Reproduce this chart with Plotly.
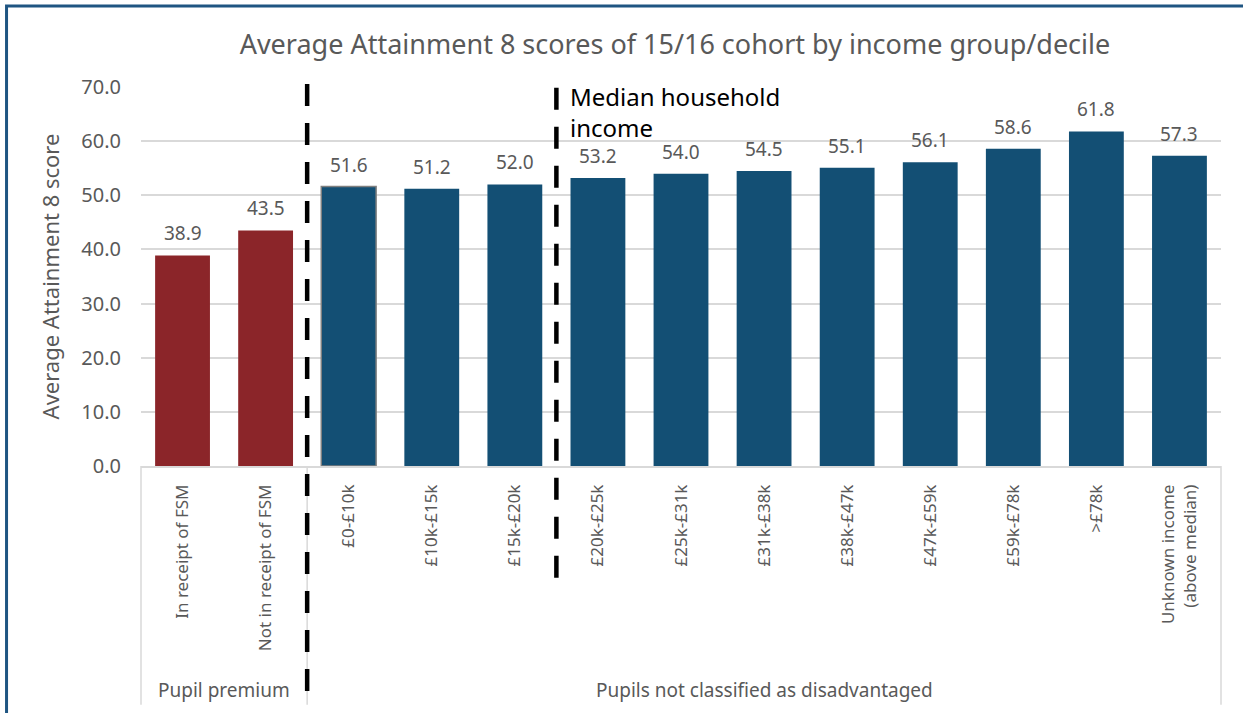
import plotly.graph_objects as go

categories = ["In receipt of FSM", "Not in receipt of FSM", "£0-£10k", "£10k-£15k",
              "£15k-£20k", "£20k-£25k", "£25k-£31k", "£31k-£38k", "£38k-£47k",
              "£47k-£59k", "£59k-£78k", ">£78k", "Unknown income<br>(above median)"]
values = [38.9, 43.5, 51.6, 51.2, 52.0, 53.2, 54.0, 54.5, 55.1, 56.1, 58.6, 61.8, 57.3]
groups = ["Pupil premium"] * 2 + ["Pupils not classified as disadvantaged"] * 11
median_after = "£15k-£20k"
title_text = "Average Attainment 8 scores of 15/16 cohort by income group/decile"
y_title = "Average Attainment 8 score"
y_ticks = [0, 10, 20, 30, 40, 50, 60, 70]

RED = "#8B2529"
BLUE = "#134F74"
GREY_TXT = "#595959"
GRID = "#D9D9D9"
FONT = "Noto Sans, Open Sans, sans-serif"

n = len(categories)
colors = [RED if g == "Pupil premium" else BLUE for g in groups]
line_w = [1.5 if c == "£0-£10k" else 0 for c in categories]

fig = go.Figure()
fig.add_trace(go.Bar(
    x=list(range(n)), y=values,
    marker=dict(color=colors, line=dict(color="#7F7F7F", width=line_w)),
    width=0.66, hoverinfo="x+y",
))

ann = []
for i, v in enumerate(values):
    ann.append(dict(x=i, y=v, xref="x", yref="y", text=f"{v:.1f}", showarrow=False,
                    xanchor="center", yanchor="bottom", yshift=7,
                    font=dict(size=19, color=GREY_TXT, family=FONT)))

# group structure
bounds = []
start = 0
for i in range(1, n + 1):
    if i == n or groups[i] != groups[i - 1]:
        bounds.append((start, i, groups[start]))
        start = i

def px(idx):  # paper x for category boundary index
    return idx / n

shapes = []
AX_BOTTOM = -0.63
for (s, e, g) in bounds:
    ann.append(dict(x=(px(s) + px(e)) / 2, y=-0.591, xref="paper", yref="paper", text=g,
                    xanchor="center", yanchor="middle", showarrow=False,
                    font=dict(size=19, color=GREY_TXT, family=FONT)))
for b in sorted(set([0, n] + [e for (_, e, _) in bounds])):
    shapes.append(dict(type="line", xref="paper", yref="paper", x0=px(b), x1=px(b),
                       y0=0, y1=AX_BOTTOM, line=dict(color=GRID, width=1.5)))

# dashed separator between groups
first_split = bounds[0][1]
shapes.append(dict(type="line", xref="paper", yref="paper", x0=px(first_split), x1=px(first_split),
                   y0=1.008, y1=-0.61, line=dict(color="black", width=4.5, dash="22px,17px")))
# median line
mi = categories.index(median_after) + 1
shapes.append(dict(type="line", xref="paper", yref="paper", x0=px(mi), x1=px(mi),
                   y0=0.998, y1=-0.315, line=dict(color="black", width=4.5, dash="22px,17px")))
ann.append(dict(x=px(mi), y=1.008, xref="paper", yref="paper", xanchor="left", yanchor="top",
                xshift=12, yshift=6, text="Median household<br>income", align="left", showarrow=False,
                font=dict(size=24, color="black", family=FONT)))

# frame
shapes.append(dict(type="rect", xref="paper", yref="paper", x0=-0.1245, x1=1.03, y0=1.2135, y1=-0.68,
                   line=dict(color="#1F5582", width=3), layer="above"))

fig.update_layout(
    width=1243, height=713,
    margin=dict(l=141, r=22, t=87, b=247),
    paper_bgcolor="white", plot_bgcolor="white",
    title=dict(text=title_text, x=0.543, xanchor="center", y=0.937, yanchor="middle",
               font=dict(size=27, color=GREY_TXT, family=FONT)),
    showlegend=False,
    shapes=shapes, annotations=ann,
    bargap=0.34,
)
fig.update_xaxes(
    range=[-0.5, n - 0.5], tickmode="array", tickvals=list(range(n)), ticktext=categories,
    tickangle=-90, tickfont=dict(size=17, color=GREY_TXT, family=FONT),
    showline=True, linecolor=GRID, linewidth=1.5, showgrid=False, ticks="", ticklabelstandoff=10,
    fixedrange=True,
)
fig.update_yaxes(
    range=[0, 70], tickmode="array", tickvals=y_ticks, ticktext=[f"{t:.1f}" for t in y_ticks],
    tickfont=dict(size=20, color=GREY_TXT, family=FONT), showgrid=True, gridcolor=GRID, gridwidth=1.5,
    zeroline=False, ticklabelstandoff=19, fixedrange=True,
    title=dict(text=y_title, font=dict(size=22, color=GREY_TXT, family=FONT), standoff=15),
)

fig.write_html("out.html", config={"displayModeBar": False},
               post_script="document.body.style.margin='0';")
